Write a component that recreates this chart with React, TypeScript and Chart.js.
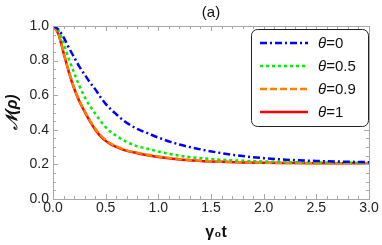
import React, { useEffect, useRef } from "react";
import { Chart, registerables } from "chart.js";

Chart.register(...registerables);

const tValues = [0, 0.05, 0.1, 0.15, 0.2, 0.25, 0.3, 0.35, 0.4, 0.45, 0.5, 0.55, 0.6, 0.65, 0.7, 0.8, 0.9, 1.0, 1.2, 1.4, 1.6, 1.8, 2.0, 2.25, 2.5, 2.75, 3.0];
const theta0 = [1.0, 0.98, 0.935, 0.875, 0.82, 0.765, 0.72, 0.675, 0.635, 0.59, 0.55, 0.518, 0.49, 0.463, 0.44, 0.405, 0.38, 0.355, 0.315, 0.287, 0.265, 0.248, 0.236, 0.226, 0.22, 0.216, 0.213];
const theta05 = [1.0, 0.975, 0.9, 0.81, 0.73, 0.655, 0.59, 0.538, 0.495, 0.452, 0.415, 0.387, 0.365, 0.346, 0.33, 0.305, 0.29, 0.275, 0.25, 0.236, 0.227, 0.221, 0.217, 0.213, 0.211, 0.21, 0.209];
const theta09 = [1.0, 0.957, 0.85, 0.74, 0.645, 0.57, 0.51, 0.455, 0.408, 0.37, 0.341, 0.32, 0.305, 0.292, 0.281, 0.268, 0.256, 0.246, 0.231, 0.221, 0.216, 0.212, 0.21, 0.208, 0.207, 0.207, 0.207];
const theta1 = [1.0, 0.955, 0.845, 0.735, 0.64, 0.565, 0.505, 0.45, 0.402, 0.364, 0.336, 0.316, 0.301, 0.288, 0.278, 0.265, 0.253, 0.243, 0.229, 0.22, 0.215, 0.211, 0.209, 0.208, 0.207, 0.207, 0.207];
const seriesLabels = ["θ=0", "θ=0.5", "θ=0.9", "θ=1"];
const xTicks = [0, 0.5, 1.0, 1.5, 2.0, 2.5, 3.0];
const yTicks = [0, 0.2, 0.4, 0.6, 0.8, 1.0];

const FRAME = "#a8a8a8";
const TICKTXT = "#222222";
const FONT = "'Liberation Sans', Arial, sans-serif";

const framePlugin = {
  id: "frame",
  afterDraw(chart: any) {
    const { ctx, chartArea: a, scales } = chart;
    const xs = scales.x;
    const ys = scales.y;
    ctx.save();
    ctx.strokeStyle = FRAME;
    ctx.lineWidth = 1;
    ctx.strokeRect(Math.round(a.left) + 0.5, Math.round(a.top) + 0.5, Math.round(a.right - a.left), Math.round(a.bottom - a.top));
    ctx.beginPath();
    for (let i = 0; i <= 30; i++) {
      const v = i / 10;
      const major = i % 5 === 0;
      const len = major ? 5 : 3;
      const px = Math.round(xs.getPixelForValue(v)) + 0.5;
      ctx.moveTo(px, a.bottom);
      ctx.lineTo(px, a.bottom - len);
      ctx.moveTo(px, a.top);
      ctx.lineTo(px, a.top + len);
    }
    for (let i = 0; i <= 20; i++) {
      const v = i / 20;
      const major = i % 4 === 0;
      const len = major ? 5 : 3;
      const py = Math.round(ys.getPixelForValue(v)) + 0.5;
      ctx.moveTo(a.left, py);
      ctx.lineTo(a.left + len, py);
      ctx.moveTo(a.right, py);
      ctx.lineTo(a.right - len, py);
    }
    ctx.stroke();

    // title
    ctx.fillStyle = "#111";
    ctx.font = `15px ${FONT}`;
    ctx.textAlign = "center";
    ctx.textBaseline = "middle";
    ctx.fillText("(a)", 211, 13);

    // axis titles
    ctx.font = `bold 16px ${FONT}`;
    ctx.fillText("γ₀t", 216, 233);
    ctx.save();
    ctx.translate(13, 112);
    ctx.rotate(-Math.PI / 2);
    ctx.font = `bold italic 16px ${FONT}`;
    ctx.fillText("𝒩(ρ)", 0, 0);
    ctx.restore();

    // legend
    const lx = 251.5, ly = 29.5, lw = 117, lh = 97, r = 6;
    ctx.beginPath();
    ctx.moveTo(lx + r, ly);
    ctx.lineTo(lx + lw - r, ly);
    ctx.arcTo(lx + lw, ly, lx + lw, ly + r, r);
    ctx.lineTo(lx + lw, ly + lh - r);
    ctx.arcTo(lx + lw, ly + lh, lx + lw - r, ly + lh, r);
    ctx.lineTo(lx + r, ly + lh);
    ctx.arcTo(lx, ly + lh, lx, ly + lh - r, r);
    ctx.lineTo(lx, ly + r);
    ctx.arcTo(lx, ly, lx + r, ly, r);
    ctx.closePath();
    ctx.fillStyle = "#fff";
    ctx.fill();
    ctx.strokeStyle = "#222";
    ctx.lineWidth = 1;
    ctx.stroke();
    chart.data.datasets.forEach((ds: any, i: number) => {
      const y = 43 + i * 23;
      ctx.beginPath();
      ctx.setLineDash(ds.borderDash || []);
      ctx.strokeStyle = ds.borderColor;
      ctx.lineWidth = ds.borderWidth;
      ctx.moveTo(260, y);
      ctx.lineTo(308, y);
      ctx.stroke();
      ctx.setLineDash([]);
      ctx.fillStyle = "#111";
      ctx.textAlign = "left";
      ctx.font = `italic 15px ${FONT}`;
      const th = "θ";
      ctx.fillText(th, 318, y + 1);
      const w = ctx.measureText(th).width;
      ctx.font = `15px ${FONT}`;
      ctx.fillText(ds.label.slice(1), 318 + w, y + 1);
    });
    ctx.restore();
  },
};

export default function App() {
  const ref = useRef<HTMLCanvasElement>(null);
  useEffect(() => {
    document.body.style.margin = "0";
    const mk = (data: number[]) => tValues.map((t, i) => ({ x: t, y: data[i] }));
    const chart = new Chart(ref.current!, {
      type: "line",
      data: {
        datasets: [
          { label: seriesLabels[0], data: mk(theta0), borderColor: "#0000ff", borderWidth: 2.5, borderDash: [7, 3, 2, 3], pointRadius: 0, fill: false, cubicInterpolationMode: "monotone" },
          { label: seriesLabels[1], data: mk(theta05), borderColor: "#00ee00", borderWidth: 2.5, borderDash: [3, 3], pointRadius: 0, fill: false, cubicInterpolationMode: "monotone" },
          { label: seriesLabels[2], data: mk(theta09), borderColor: "#ff8000", borderWidth: 2.5, borderDash: [7, 3], pointRadius: 0, fill: false, cubicInterpolationMode: "monotone" },
          { label: seriesLabels[3], data: mk(theta1), borderColor: "#ff0000", borderWidth: 2.5, pointRadius: 0, fill: false, cubicInterpolationMode: "monotone" },
        ] as any,
      },
      options: {
        responsive: false,
        animation: false,
        layout: { padding: { top: 26, right: 13, left: 0, bottom: 0 } },
        plugins: { legend: { display: false }, tooltip: { enabled: false }, title: { display: false } },
        scales: {
          x: {
            type: "linear",
            min: 0,
            max: 3,
            afterBuildTicks: (s: any) => { s.ticks = xTicks.map((v) => ({ value: v })); },
            afterFit: (s: any) => { s.height = 46; },
            ticks: { color: TICKTXT, font: { size: 14, family: FONT }, padding: 1, maxRotation: 0, callback: (v: any) => Number(v).toFixed(1) },
            grid: { display: false, drawTicks: false },
            border: { display: false },
          },
          y: {
            type: "linear",
            min: 0,
            max: 1,
            afterBuildTicks: (s: any) => { s.ticks = yTicks.map((v) => ({ value: v })); },
            afterFit: (s: any) => { s.width = 53; },
            ticks: { color: TICKTXT, font: { size: 14, family: FONT }, padding: 4, callback: (v: any) => Number(v).toFixed(1) },
            grid: { display: false, drawTicks: false },
            border: { display: false },
          },
        },
      },
      plugins: [framePlugin],
    });
    return () => chart.destroy();
  }, []);
  return <canvas ref={ref} width={382} height={245} style={{ display: "block" }} />;
}
